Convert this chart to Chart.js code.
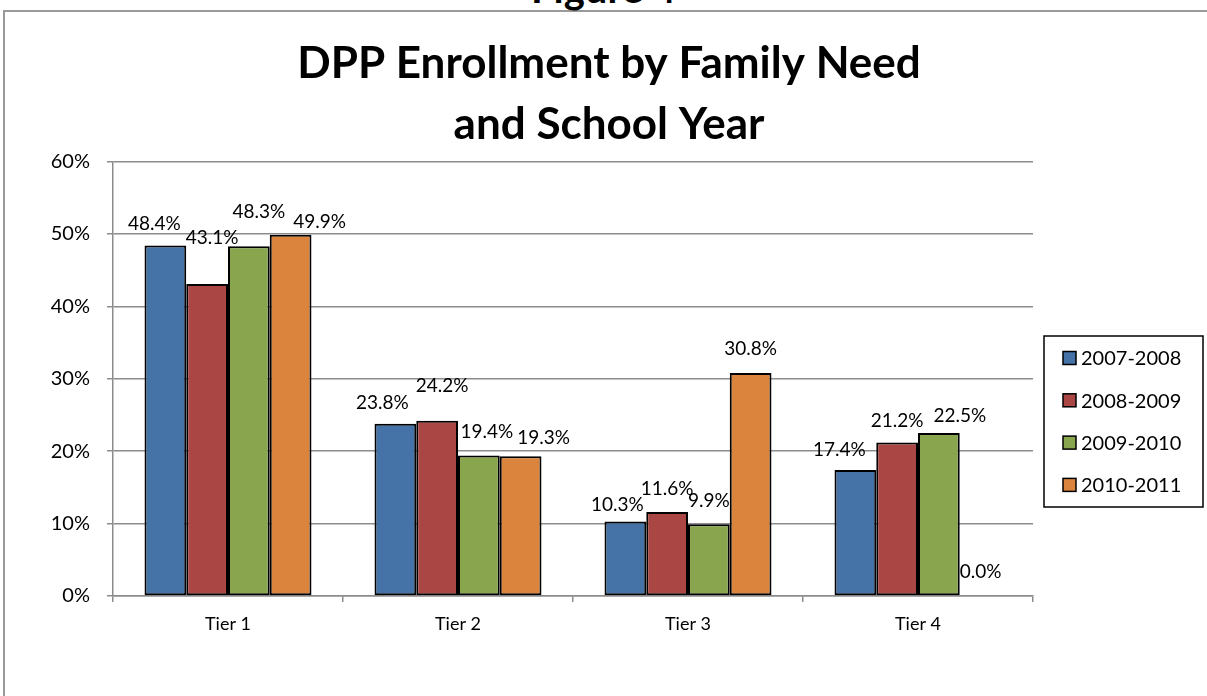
<!DOCTYPE html>
<html>
<head>
<meta charset="utf-8">
<script src="https://cdn.jsdelivr.net/npm/chart.js@4.4.1/dist/chart.umd.min.js"></script>
<style>
    html, body { margin: 0; padding: 0; background: #fff; }
    #wrap { position: relative; width: 1207px; height: 696px; overflow: hidden; }
    #frame { position: absolute; left: 3px; top: 10px; width: 1300px; height: 800px;
             border-top: 2px solid #9a9a9a; border-left: 2px solid #9a9a9a; }
    #fig { position: absolute; left: 0; width: 1207px; top: -32px; text-align: center;
           font: bold 40px Lato, sans-serif; line-height: 40px; color: #000; }
    canvas { position: absolute; left: 0; top: 0; }
</style>
</head>
<body>
<div id="wrap">
    <div id="frame"></div>
    <div id="fig">Figure 4</div>
    <canvas id="chart" width="1207" height="696"></canvas>
</div>
<script>
const categories = ['Tier 1', 'Tier 2', 'Tier 3', 'Tier 4'];
const seriesNames = ['2007-2008', '2008-2009', '2009-2010', '2010-2011'];
const year0708 = [48.4, 23.8, 10.3, 17.4];
const year0809 = [43.1, 24.2, 11.6, 21.2];
const year0910 = [48.3, 19.4, 9.9, 22.5];
const year1011 = [49.9, 19.3, 30.8, 0.0];
const yTicks = [0, 10, 20, 30, 40, 50, 60];

const colors = ['#4572A7', '#AA4643', '#89A54E', '#DB843D'];
// label nudges [dx, dy] from the top centre of each bar (the original labels were moved by hand)
const labelShift = [
    [[-11, -22], [-13, -21], [-8, -17], [-16, -20]],
    [[5, -46], [5, -35], [0, -23], [0, -22]],
    [[10, -34], [8, -24], [0, -23], [21, -17]],
    [[29, -13], [23, -18], [0, -24], [0, -24]]
];
const gridColor = '#8c8c8c';
const font = 'Lato, sans-serif';

const barLabels = {
    id: 'barLabels',
    afterDatasetsDraw(chart) {
        const ctx = chart.ctx;
        ctx.save();
        ctx.font = '19px ' + font;
        ctx.fillStyle = '#000';
        ctx.textAlign = 'center';
        ctx.textBaseline = 'middle';
        chart.data.datasets.forEach((ds, i) => {
            chart.getDatasetMeta(i).data.forEach((bar, j) => {
                const s = labelShift[i][j];
                ctx.fillText(ds.data[j].toFixed(1) + '%', bar.x + s[0], bar.y + s[1]);
            });
        });
        ctx.restore();
    }
};

// boxed legend on the right, drawn by hand
const boxLegend = {
    id: 'boxLegend',
    afterDraw(chart) {
        const ctx = chart.ctx;
        const left = chart.chartArea.right + 11, top = 336, w = 159, h = 171;
        ctx.save();
        ctx.strokeStyle = '#000';
        ctx.lineWidth = 1.5;
        ctx.strokeRect(left, top, w, h);
        ctx.font = '20px ' + font;
        ctx.textBaseline = 'middle';
        ctx.textAlign = 'left';
        chart.data.datasets.forEach((ds, i) => {
            const y = top + 22 + i * 42.3;
            ctx.fillStyle = ds.backgroundColor;
            ctx.fillRect(left + 19, y - 6.5, 13, 13);
            ctx.lineWidth = 1.5;
            ctx.strokeRect(left + 19, y - 6.5, 13, 13);
            ctx.fillStyle = '#000';
            ctx.fillText(ds.label, left + 37, y + 1);
        });
        ctx.restore();
    }
};

const seriesData = [year0708, year0809, year0910, year1011];

new Chart(document.getElementById('chart'), {
    type: 'bar',
    data: {
        labels: categories,
        datasets: seriesNames.map((name, i) => ({
            label: name,
            data: seriesData[i],
            backgroundColor: colors[i],
            borderColor: '#000',
            borderWidth: 2,
            borderSkipped: false,
            barPercentage: 1,
            categoryPercentage: 0.726
        }))
    },
    options: {
        responsive: false,
        animation: false,
        layout: { padding: { left: 11, right: 0, top: 0, bottom: 0 } },
        plugins: {
            legend: { display: false },
            tooltip: { enabled: false },
            title: {
                display: true,
                text: ['DPP Enrollment by Family Need', 'and School Year'],
                color: '#000',
                font: { family: font, size: 44, weight: 'bold', lineHeight: 1.37 },
                padding: { top: 34, bottom: 7 }
            }
        },
        scales: {
            x: {
                grid: { display: true, drawOnChartArea: false, drawTicks: true, tickLength: 6,
                        color: gridColor, lineWidth: 1.5, offset: true },
                border: { display: true, color: gridColor, width: 1.5 },
                ticks: { color: '#000', font: { family: font, size: 18 }, padding: 11 },
                afterFit(s) { s.height = 100; }
            },
            y: {
                min: 0,
                max: 60,
                afterBuildTicks(s) { s.ticks = yTicks.map(v => ({ value: v })); },
                grid: { color: gridColor, lineWidth: 1.5, tickLength: 6 },
                border: { display: true, color: gridColor, width: 1.5 },
                ticks: { color: '#000', font: { family: font, size: 20 }, padding: 17,
                         callback: v => v + '%' },
                afterFit(s) { s.width = 102; }
            },
            spare: {
                position: 'right',
                grid: { display: false },
                border: { display: false },
                ticks: { display: false },
                afterFit(s) { s.width = 174; }
            }
        }
    },
    plugins: [barLabels, boxLegend]
});
</script>
</body>
</html>
